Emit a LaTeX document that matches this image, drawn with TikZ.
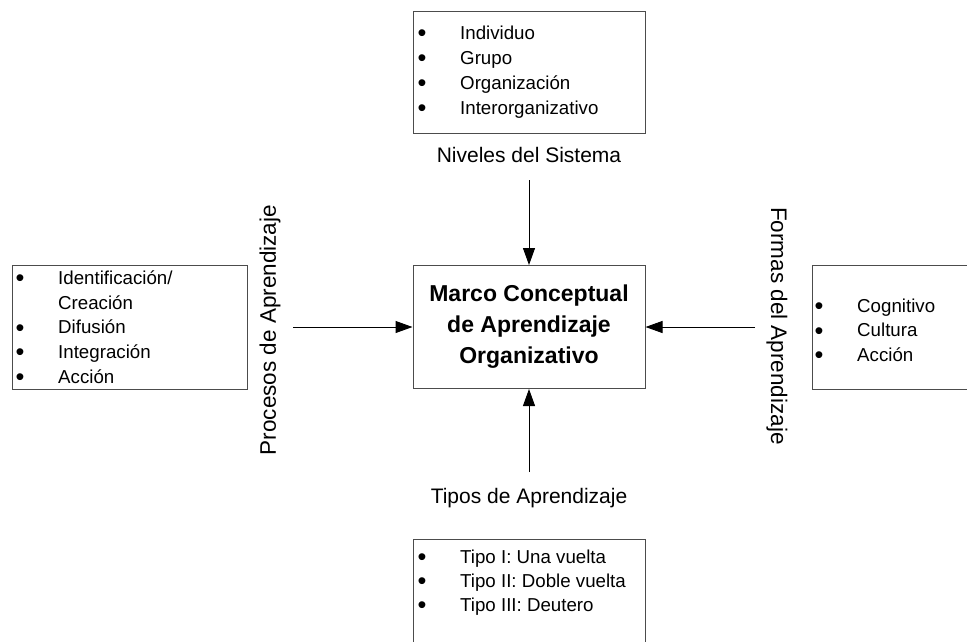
\documentclass[tikz,border=0pt]{standalone}
\usepackage{fontspec}
\setmainfont{Liberation Sans}
\usetikzlibrary{arrows.meta}
\newcommand{\blt}{\raisebox{-2.5pt}{\scalebox{1.35}{\textbullet}}}

\begin{document}
\begin{tikzpicture}[x=1pt,y=-1pt]
\useasboundingbox (0,0) rectangle (967,641);
\clip (0,0) rectangle (967,641);
\begin{scope}[every node/.style={draw=black!70,line width=1pt,inner sep=0pt}]
    \node[minimum width=232pt,minimum height=122pt] (niveles) at (529,72) {};
    \node[minimum width=232pt,minimum height=123pt,align=center,
          font=\fontsize{23}{31}\selectfont\bfseries] (marco) at (529,327)
          {Marco Conceptual\\de Aprendizaje\\Organizativo};
    \node[minimum width=235pt,minimum height=124pt] (procesos) at (129.5,327) {};
    \node[minimum width=175pt,minimum height=124pt] (formas) at (899.5,327) {};
    \node[minimum width=232pt,minimum height=124pt] (tipos) at (529,601) {};
\end{scope}
\begin{scope}[every node/.style={inner sep=0pt,font=\fontsize{18.7}{25}\selectfont}]
    % niveles del sistema
    \foreach \t [count=\i] in {Individuo,Grupo,Organización,Interorganizativo} {
        \node[anchor=base] (niv-b\i) at (422,{14+25*\i}) {\blt};
        \node[anchor=base west] (niv-t\i) at (460,{14+25*\i}) {\t};
    }
    % procesos
    \node[anchor=base] (pro-b1) at (20,284) {\blt};
    \node[anchor=base west] (pro-t1) at (58,284) {Identificación/};
    \node[anchor=base west] (pro-t2) at (58,309) {Creación};
    \node[anchor=base] (pro-b3) at (20,333.5) {\blt};
    \node[anchor=base west] (pro-t3) at (58,333.5) {Difusión};
    \node[anchor=base] (pro-b4) at (20,358) {\blt};
    \node[anchor=base west] (pro-t4) at (58,358) {Integración};
    \node[anchor=base] (pro-b5) at (20,383) {\blt};
    \node[anchor=base west] (pro-t5) at (58,383) {Acción};
    % formas
    \foreach \t [count=\i] in {Cognitivo,Cultura,Acción} {
        \node[anchor=base] (for-b\i) at (819,{287.5+24.5*\i}) {\blt};
        \node[anchor=base west] (for-t\i) at (857,{287.5+24.5*\i}) {\t};
    }
    % tipos
    \foreach \t [count=\i] in {Tipo I: Una vuelta,Tipo II: Doble vuelta,Tipo III: Deutero} {
        \node[anchor=base] (tip-b\i) at (422,{539+24*\i}) {\blt};
        \node[anchor=base west] (tip-t\i) at (460,{539+24*\i}) {\t};
    }
\end{scope}
\begin{scope}[every node/.style={inner sep=0pt,font=\fontsize{21}{25}\selectfont}]
    \node (lbl-niv) at (529,155) {Niveles del Sistema};
    \node (lbl-tip) at (529,498) {Tipos de Aprendizaje};
    \node[rotate=90,font=\fontsize{22.5}{25}\selectfont] (lbl-pro) at (270,330) {Procesos de Aprendizaje};
    \node[rotate=-90,font=\fontsize{22.5}{25}\selectfont] (lbl-for) at (777,326) {Formas del Aprendizaje};
\end{scope}
\coordinate (niv-in) at (529,180);
\coordinate (pro-in) at (293,327);
\coordinate (for-in) at (755,327);
\coordinate (tip-in) at (529,472);
\begin{scope}[every edge/.style={draw=black,line width=1pt,-{Triangle[length=17pt,width=12pt]}}]
    \path (niv-in) edge (marco);
    \path (pro-in) edge (marco);
    \path (for-in) edge (marco);
    \path (tip-in) edge (marco);
\end{scope}
\end{tikzpicture}
\end{document}
